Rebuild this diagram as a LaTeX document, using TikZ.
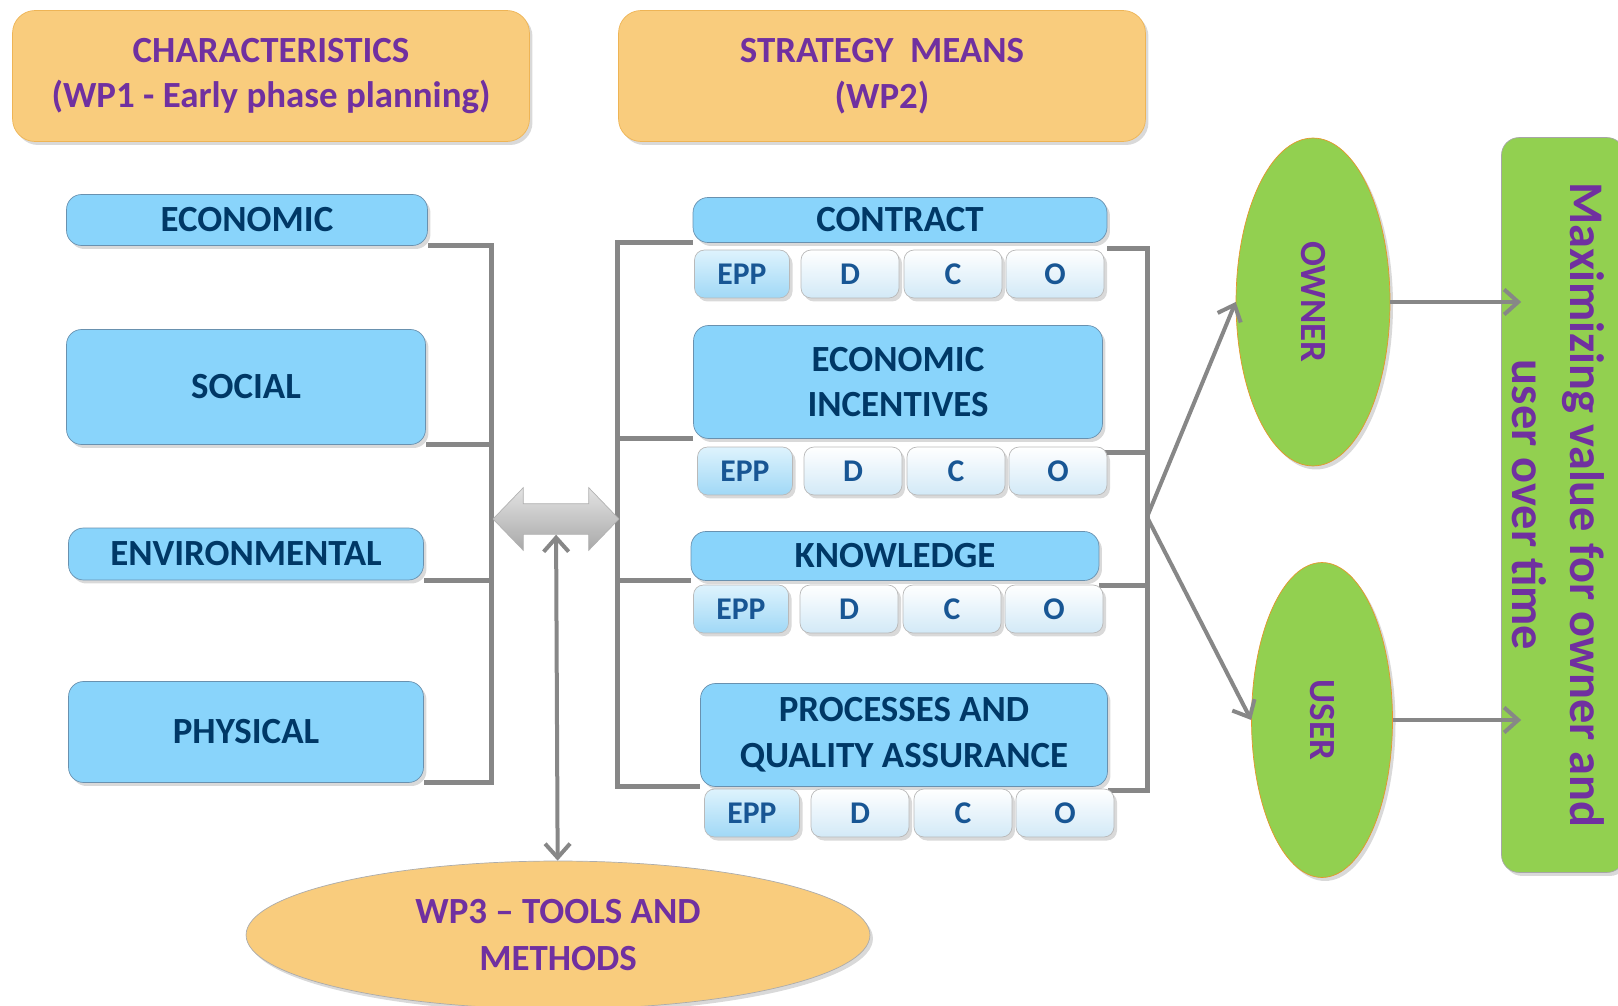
\documentclass[tikz,border=0pt]{standalone}
\usepackage{fontspec}
\setmainfont{Carlito}
\usepackage{graphicx}
\usetikzlibrary{shapes.geometric,shapes.arrows,shadows,arrows.meta,backgrounds}

\definecolor{headfill}{RGB}{249,204,125}
\definecolor{headline}{RGB}{238,180,85}
\definecolor{headtext}{RGB}{112,48,160}
\definecolor{aspfill}{RGB}{137,212,251}
\definecolor{aspline}{RGB}{105,145,175}
\definecolor{asptext}{RGB}{0,56,102}
\definecolor{phasetext}{RGB}{24,86,148}
\definecolor{phaselow}{RGB}{210,233,247}
\definecolor{eppup}{RGB}{222,243,253}
\definecolor{epplow}{RGB}{160,216,246}
\definecolor{linkgray}{RGB}{135,135,135}
\definecolor{actfill}{RGB}{146,208,80}
\definecolor{actline}{RGB}{228,150,45}

\begin{document}
\begin{tikzpicture}[x=0.02cm,y=-0.02cm,
>={Straight Barb[length=0.28cm,width=0.5cm]},
myshadow/.style={drop shadow={opacity=0.3,shadow xshift=0.06cm,shadow yshift=-0.07cm}},
head/.style={draw=headline,fill=headfill,rounded corners=0.45cm,text=headtext,align=center,
  font=\fontsize{21}{26}\selectfont\bfseries,myshadow},
aspect/.style={draw=aspline,fill=aspfill,rounded corners=0.3cm,text=asptext,align=center,inner sep=2pt,
  font=\fontsize{21}{26}\selectfont\bfseries,myshadow},
phase/.style={draw=gray!55,rounded corners=0.2cm,top color=white,bottom color=phaselow,text=phasetext,
  minimum width=1.96cm,minimum height=0.96cm,inner sep=1pt,font=\fontsize{18}{20}\selectfont\bfseries,myshadow},
epp/.style={top color=eppup,bottom color=epplow,minimum width=1.9cm},
actor/.style={ellipse,draw=actline,fill=actfill,text=headtext,inner sep=1pt,
  font=\fontsize{21}{26}\selectfont\bfseries,myshadow},
goal/.style={draw=gray!70,fill=actfill,rounded corners=0.35cm,text=headtext,inner sep=0pt,
  font=\fontsize{27.5}{33}\selectfont\bfseries,myshadow},
bracket/.style={draw=linkgray,line width=0.1cm},
flow/.style={draw=linkgray,line width=0.08cm,->}]

\useasboundingbox (0,0) rectangle (1618,1006);

% work packages
\node[head,minimum width=10.34cm,minimum height=2.62cm] (wp1) at (271,76) {CHARACTERISTICS\\(WP1 - Early phase planning)};
\node[head,minimum width=10.54cm,minimum height=2.62cm] (wp2) at (882,76) {STRATEGY\ \ MEANS\\(WP2)};
\node[ellipse,draw=gray!65,fill=headfill,text=headtext,align=center,minimum width=12.48cm,minimum height=2.96cm,
  font=\fontsize{21}{26.5}\selectfont\bfseries,myshadow] (wp3) at (558,935) {WP3 -- TOOLS AND\\METHODS};

% characteristics
\node[aspect,minimum width=7.22cm,minimum height=1.02cm] (eco) at (247,220) {ECONOMIC};
\node[aspect,minimum width=7.18cm,minimum height=2.3cm] (soc) at (246,387) {SOCIAL};
\node[aspect,minimum width=7.1cm,minimum height=1.04cm] (env) at (246,554) {ENVIRONMENTAL};
\node[aspect,minimum width=7.1cm,minimum height=2.02cm] (phy) at (246,732) {PHYSICAL};

% strategy means
\node[aspect,minimum width=8.28cm,minimum height=0.9cm] (con) at (900,220) {CONTRACT};
\node[aspect,minimum width=8.18cm,minimum height=2.26cm] (inc) at (898,382) {ECONOMIC\\INCENTIVES};
\node[aspect,minimum width=8.16cm,minimum height=0.98cm] (kno) at (895,556) {KNOWLEDGE};
\node[aspect,minimum width=8.14cm,minimum height=2.06cm] (pro) at (904,735) {PROCESSES AND\\QUALITY ASSURANCE};

\foreach \r/\x/\y in {1/742/274,2/745/471,3/741/609,4/752/813}{
  \node[phase,epp] (epp\r) at (\x,\y) {EPP};
  \node[phase] (d\r) at (\x+108,\y) {D};
  \node[phase] (c\r) at (\x+211,\y) {C};
  \node[phase] (o\r) at (\x+313,\y) {O};
}

\node[double arrow,draw=gray!60,top color=gray!22,bottom color=gray!68,minimum height=2.52cm,minimum width=0pt,
  inner xsep=0pt,inner ysep=0.3cm,double arrow head extend=0.32cm,double arrow tip angle=92] (link) at (556,519) {};

% owner and user
\node[actor,minimum width=3.08cm,minimum height=6.56cm] (own) at (1313,302) {\rotatebox{-90}{OWNER}};
\node[actor,minimum width=2.82cm,minimum height=6.3cm] (usr) at (1322,720) {\rotatebox{-90}{USER}};
\node[goal,minimum width=2.46cm,minimum height=14.7cm] (goal) at (1563,505)
  {\hspace*{-0.4cm}\rotatebox{-90}{\begin{tabular}{@{}c@{}}Maximizing value for owner and\\user over time\end{tabular}}};

\coordinate (lx) at (491,0);
\coordinate (mx) at (617,0);
\coordinate (rx) at (1147,0);
\coordinate (fork) at (1147,517);
\coordinate (gin) at ([xshift=0.4cm]goal.west);

\begin{scope}[on background layer]
\draw[bracket] (eco.south east) -- (eco.south east -| lx) -- (phy.south east -| lx) -- (phy.south east);
\draw[bracket] (soc.south east) -- (soc.south east -| lx);
\draw[bracket] (env.south east) -- (env.south east -| lx);
\draw[bracket] (con.south west) -- (con.south west -| mx) -- (pro.south west -| mx) -- (pro.south west);
\draw[bracket] (inc.south west) -- (inc.south west -| mx);
\draw[bracket] (kno.south west) -- (kno.south west -| mx);
\draw[bracket] ([yshift=-0.12cm]con.south east) -| ([yshift=-0.08cm]pro.south east -| rx) -- ([yshift=-0.08cm]pro.south east);
\draw[bracket] ([yshift=-0.28cm]inc.south east) -- ([yshift=-0.28cm]inc.south east -| rx);
\draw[bracket] ([yshift=-0.1cm]kno.south east) -- ([yshift=-0.1cm]kno.south east -| rx);
\end{scope}

\draw[flow,<->] (wp3) -- (link);
\draw[flow] (fork) -- (own.west);
\draw[flow] (fork) -- (usr.west);
\draw[flow] (own.east) -- (own.east -| gin);
\draw[flow] (usr.east) -- (usr.east -| gin);

\end{tikzpicture}
\end{document}
